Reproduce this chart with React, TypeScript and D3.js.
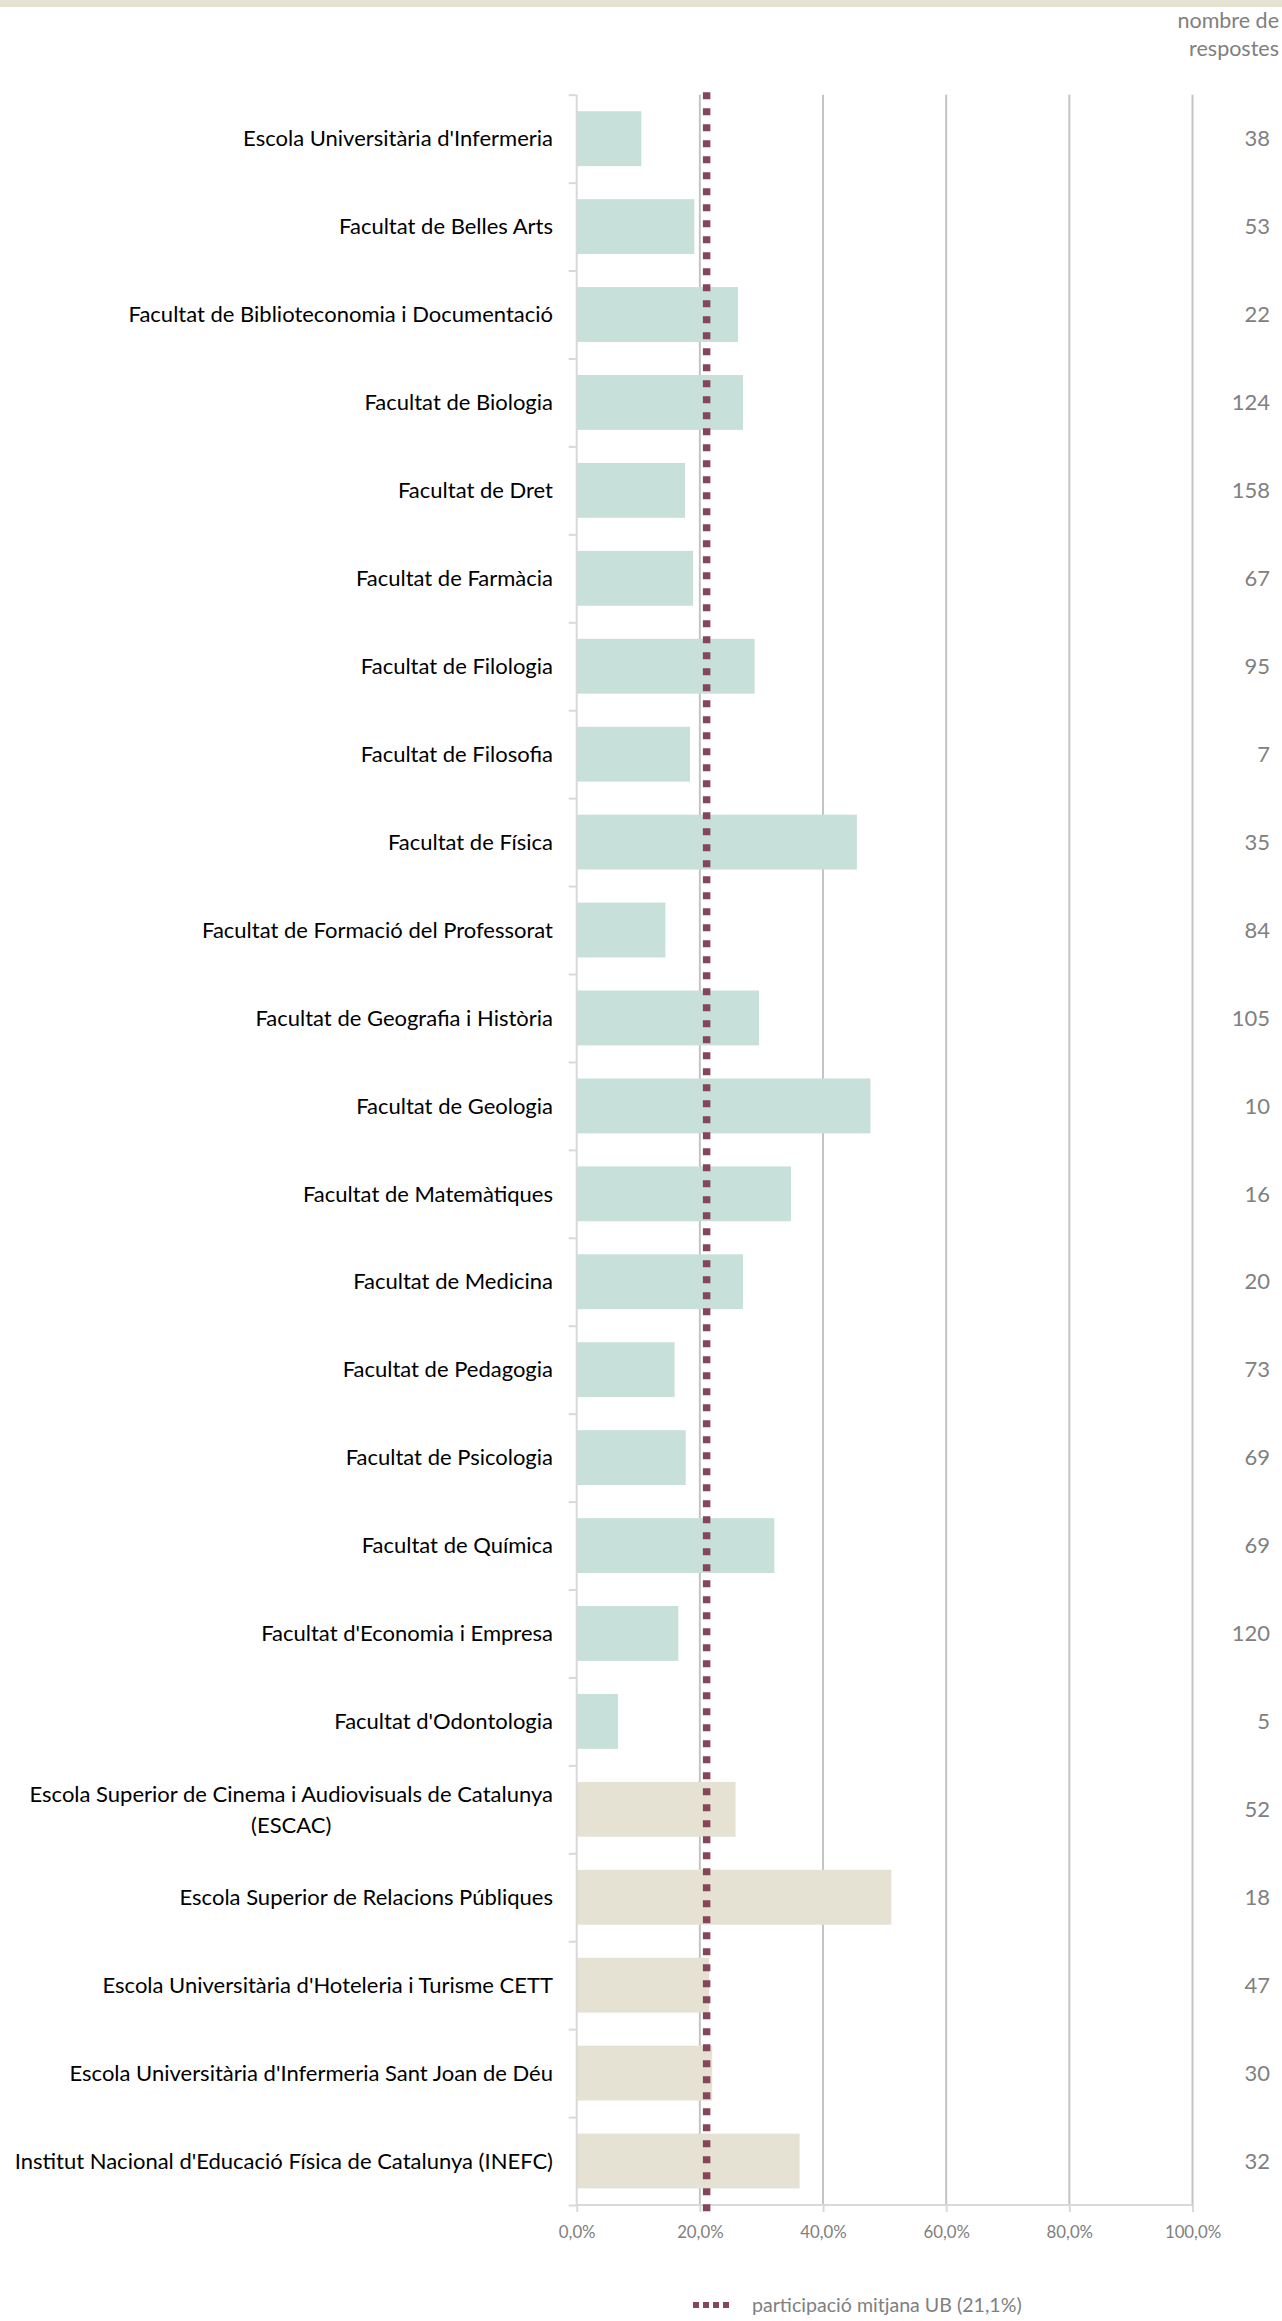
import React, { useEffect, useRef } from 'react';
import * as d3 from 'd3';

const categories = [
  "Escola Universitària d'Infermeria",
  'Facultat de Belles Arts',
  'Facultat de Biblioteconomia i Documentació',
  'Facultat de Biologia',
  'Facultat de Dret',
  'Facultat de Farmàcia',
  'Facultat de Filologia',
  'Facultat de Filosofia',
  'Facultat de Física',
  'Facultat de Formació del Professorat',
  'Facultat de Geografia i Història',
  'Facultat de Geologia',
  'Facultat de Matemàtiques',
  'Facultat de Medicina',
  'Facultat de Pedagogia',
  'Facultat de Psicologia',
  'Facultat de Química',
  "Facultat d'Economia i Empresa",
  "Facultat d'Odontologia",
  'Escola Superior de Cinema i Audiovisuals de Catalunya\n(ESCAC)',
  'Escola Superior de Relacions Públiques',
  "Escola Universitària d'Hoteleria i Turisme CETT",
  "Escola Universitària d'Infermeria Sant Joan de Déu",
  "Institut Nacional d'Educació Física de Catalunya (INEFC)",
];

// participació (%)
const participation = [
  10.5, 19.1, 26.2, 27.0, 17.6, 18.9, 28.9, 18.4, 45.5, 14.4, 29.6, 47.7,
  34.8, 27.0, 15.9, 17.7, 32.1, 16.5, 6.7, 25.8, 51.1, 21.5, 22.0, 36.2,
];

// nombre de respostes
const responses = [
  38, 53, 22, 124, 158, 67, 95, 7, 35, 84, 105, 10, 16, 20, 73, 69, 69, 120,
  5, 52, 18, 47, 30, 32,
];

// centres propis vs adscrits
const centreType = [
  'propi', 'propi', 'propi', 'propi', 'propi', 'propi', 'propi', 'propi',
  'propi', 'propi', 'propi', 'propi', 'propi', 'propi', 'propi', 'propi',
  'propi', 'propi', 'propi', 'adscrit', 'adscrit', 'adscrit', 'adscrit', 'adscrit',
];

const averageUB = 21.1;
const xTicks = [0, 20, 40, 60, 80, 100];
const legendLabel = 'participació mitjana UB (21,1%)';
const headerLines = ['nombre de', 'respostes'];

const W = 1282;
const H = 2321;
const FONT = 'Lato, "Open Sans", sans-serif';

const App: React.FC = () => {
  const svgRef = useRef<SVGSVGElement>(null);

  useEffect(() => {
    if (!svgRef.current) return;
    const svg = d3.select(svgRef.current);
    svg.selectAll('*').remove();

    const top = 94.7;
    const bottom = 2205;
    const x = d3.scaleLinear().domain([0, 100]).range([576.7, 1192.5]);
    const y = d3
      .scaleBand<number>()
      .domain(d3.range(categories.length))
      .range([top, bottom])
      .paddingInner(0.376)
      .paddingOuter(0.188);

    const locale = d3.formatLocale({
      decimal: ',',
      thousands: '.',
      grouping: [3],
      currency: ['', '€'],
    });
    const fmt = locale.format('.1f');

    // top band
    svg.append('rect')
      .attr('x', 0).attr('y', 0)
      .attr('width', W).attr('height', 7)
      .attr('fill', '#e6e2d3');

    // gridlines
    svg.append('g')
      .selectAll('line')
      .data(xTicks.filter((t) => t > 0))
      .join('line')
      .attr('x1', (d) => x(d)).attr('x2', (d) => x(d))
      .attr('y1', top).attr('y2', bottom)
      .attr('stroke', '#c4c4c4')
      .attr('stroke-width', 2);

    // bars
    svg.append('g')
      .selectAll('rect')
      .data(participation)
      .join('rect')
      .attr('x', x(0))
      .attr('y', (_, i) => y(i)!)
      .attr('width', (d) => x(d) - x(0))
      .attr('height', y.bandwidth())
      .attr('fill', (_, i) => (centreType[i] === 'propi' ? '#c8e0da' : '#e5e2d3'));

    // left axis
    const leftAxis = d3
      .axisLeft(
        d3.scaleLinear().domain([0, categories.length]).range([top, bottom])
      )
      .tickValues(d3.range(categories.length + 1))
      .tickSize(8)
      .tickFormat(() => '');
    const la = svg.append('g')
      .attr('transform', `translate(${x(0)},0)`)
      .call(leftAxis);
    la.selectAll('path, line').attr('stroke', '#d9d9d9').attr('stroke-width', 2);
    la.select('.domain').attr('d', `M0,${top}V${bottom}`);

    // bottom axis
    const bottomAxis = d3
      .axisBottom(x)
      .tickValues(xTicks)
      .tickSize(7)
      .tickPadding(14)
      .tickFormat((d) => fmt(d as number) + '%');
    const ba = svg.append('g')
      .attr('transform', `translate(0,${bottom})`)
      .call(bottomAxis);
    ba.selectAll('path, line').attr('stroke', '#d9d9d9').attr('stroke-width', 2);
    ba.select('.domain').attr('d', `M${x(0)},0H${x(100)}`);
    ba.selectAll('text')
      .attr('fill', '#808080')
      .attr('font-family', FONT)
      .attr('font-size', 16.8);

    // average line
    svg.append('line')
      .attr('x1', x(averageUB)).attr('x2', x(averageUB))
      .attr('y1', top - 2.5).attr('y2', bottom + 8)
      .attr('stroke', '#86465a')
      .attr('stroke-width', 7.5)
      .attr('stroke-dasharray', '7 9');

    // category labels
    const labels = svg.append('g')
      .attr('font-family', FONT)
      .attr('font-size', 22)
      .attr('fill', '#000');
    categories.forEach((c, i) => {
      const lines = c.split('\n');
      const cy = y(i)! + y.bandwidth() / 2;
      if (lines.length === 1) {
        labels.append('text')
          .attr('x', 553)
          .attr('y', cy)
          .attr('dy', '0.35em')
          .attr('text-anchor', 'end')
          .text(c);
      } else {
        const first = labels.append('text')
          .attr('x', 553)
          .attr('y', cy - 15.5)
          .attr('dy', '0.35em')
          .attr('text-anchor', 'end')
          .text(lines[0]);
        const w = (first.node() as SVGTextElement).getComputedTextLength();
        labels.append('text')
          .attr('x', 553 - w / 2)
          .attr('y', cy + 15.5)
          .attr('dy', '0.35em')
          .attr('text-anchor', 'middle')
          .text(lines[1]);
      }
    });

    // number of responses
    svg.append('g')
      .selectAll('text')
      .data(responses)
      .join('text')
      .attr('x', 1270)
      .attr('y', (_, i) => y(i)! + y.bandwidth() / 2)
      .attr('dy', '0.35em')
      .attr('text-anchor', 'end')
      .attr('font-family', FONT)
      .attr('font-size', 22)
      .attr('fill', '#808080')
      .text((d) => d);

    svg.append('g')
      .selectAll('text')
      .data(headerLines)
      .join('text')
      .attr('x', 1279)
      .attr('y', (_, i) => 20 + i * 28)
      .attr('dy', '0.35em')
      .attr('text-anchor', 'end')
      .attr('font-family', FONT)
      .attr('font-size', 21.5)
      .attr('fill', '#808080')
      .text((d) => d);

    // legend
    const lg = svg.append('g').attr('transform', 'translate(693,2305)');
    lg.append('line')
      .attr('x1', 0).attr('x2', 38)
      .attr('y1', 0).attr('y2', 0)
      .attr('stroke', '#86465a')
      .attr('stroke-width', 6)
      .attr('stroke-dasharray', '6 4');
    lg.append('text')
      .attr('x', 59)
      .attr('y', 0)
      .attr('dy', '0.35em')
      .attr('font-family', FONT)
      .attr('font-size', 19.6)
      .attr('fill', '#808080')
      .text(legendLabel);
  }, []);

  return (
    <div style={{ position: 'absolute', left: 0, top: 0 }}>
      <svg ref={svgRef} width={W} height={H} style={{ display: 'block' }}></svg>
    </div>
  );
};

export default App;
